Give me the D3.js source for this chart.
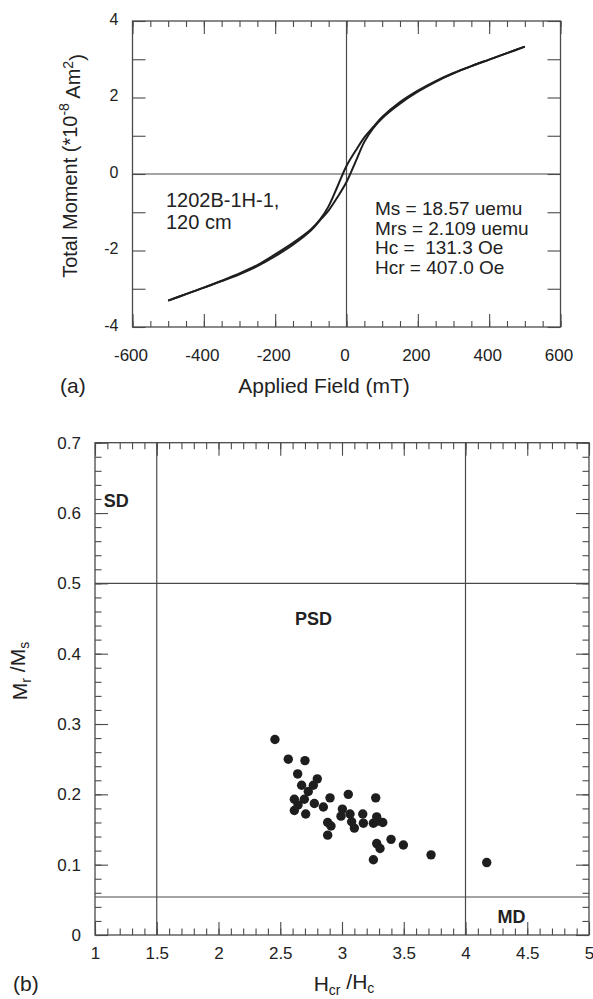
<!DOCTYPE html>
<html><head><meta charset="utf-8">
<script src="https://cdn.jsdelivr.net/npm/d3@7"></script>
<style>
body{margin:0;background:#fff}
svg{display:block}
text{font-family:"Liberation Sans",Arial,Helvetica,sans-serif;fill:#222}
</style>
</head><body>
<svg id="c" width="593" height="999"></svg>
<script>
// ---------- Panel (a): hysteresis loop ----------
const loopField = [-500,-450,-400,-350,-300,-250,-200,-150,-100,-75,-50,-25,0,25,50,75,100,150,200,250,300,350,400,450,500];
const descendingMoment = [-3.31,-3.14,-2.97,-2.79,-2.60,-2.38,-2.10,-1.80,-1.45,-1.20,-0.84,-0.32,0.21,0.60,0.96,1.23,1.49,1.88,2.18,2.43,2.64,2.82,2.99,3.16,3.33];
const ascendingMoment  = [-3.31,-3.14,-2.97,-2.80,-2.62,-2.41,-2.15,-1.85,-1.48,-1.22,-0.95,-0.60,-0.21,0.31,0.84,1.20,1.46,1.84,2.15,2.41,2.63,2.82,2.99,3.16,3.33];
const fieldTicks = [-600,-400,-200,0,200,400,600];
const momentTicks = [-4,-2,0,2,4];
const sampleLines = ["1202B-1H-1,","120 cm"];
const statsLines = ["Ms = 18.57 uemu","Mrs = 2.109 uemu","Hc =  131.3 Oe","Hcr = 407.0 Oe"];

// ---------- Panel (b): Day plot ----------
const hcrHc = [2.457,2.565,2.700,2.641,2.800,2.673,2.768,2.727,2.614,2.695,2.903,3.051,3.273,2.776,2.849,2.614,2.706,3.003,2.992,3.065,3.168,3.078,3.100,3.173,3.254,3.281,3.330,2.884,2.911,2.884,3.281,3.397,3.308,3.497,3.721,3.254,4.172,2.644,3.291];
const mrMs  = [0.278,0.250,0.248,0.229,0.222,0.213,0.213,0.204,0.193,0.193,0.195,0.200,0.195,0.187,0.182,0.177,0.172,0.179,0.169,0.172,0.172,0.161,0.152,0.159,0.159,0.168,0.160,0.160,0.155,0.142,0.130,0.136,0.123,0.128,0.114,0.107,0.103,0.185,0.162];
const ratioTicksX = [1,1.5,2,2.5,3,3.5,4,4.5,5];
const ratioTicksY = [0,0.1,0.2,0.3,0.4,0.5,0.6,0.7];
const hBoundaries = [1.5,4];
const mBoundaries = [0.5,0.054];
const domainLabels = [{t:"SD",h:1.07,m:0.608},{t:"PSD",h:2.62,m:0.441},{t:"MD",h:4.26,m:0.017}];

const svg = d3.select("#c");
const frameColor = "#4a4a4a";
const plain = d => String(d);

function styleAxis(g){
  g.select(".domain").remove();
  g.selectAll(".tick line").attr("stroke",frameColor).attr("stroke-width",1.1);
}

// ===== Panel (a) =====
const A = {l:132.5, r:560.5, t:21, b:327};
const xA = d3.scaleLinear().domain([-600,600]).range([A.l,A.r]);
const yA = d3.scaleLinear().domain([-4,4]).range([A.b,A.t]);
const gA = svg.append("g");

const minorField = d3.range(-600,601,50);
const unitMoments = d3.range(-4,5,1);
gA.append("g").attr("transform",`translate(0,${A.b})`)
  .call(d3.axisBottom(xA).tickValues(minorField).tickSize(-6).tickFormat("")).call(styleAxis);
gA.append("g").attr("transform",`translate(0,${A.t})`)
  .call(d3.axisTop(xA).tickValues(minorField).tickSize(-6).tickFormat("")).call(styleAxis);
gA.append("g").attr("transform",`translate(0,${A.t})`)
  .call(d3.axisTop(xA).tickValues(fieldTicks).tickSize(-13).tickFormat("")).call(styleAxis);
const axA = gA.append("g").attr("transform",`translate(0,${A.b})`)
  .call(d3.axisBottom(xA).tickValues(fieldTicks).tickSize(-13).tickPadding(22).tickFormat(plain)).call(styleAxis);
axA.selectAll("text").style("font-size","17px").attr("fill","#222").attr("dx","-2");
const ayA = gA.append("g").attr("transform",`translate(${A.l},0)`)
  .call(d3.axisLeft(yA).tickValues(unitMoments).tickSize(-13).tickPadding(14)
    .tickFormat(d => momentTicks.includes(d) ? plain(d) : "")).call(styleAxis);
ayA.selectAll("text").style("font-size","16px").attr("fill","#222").attr("dy","0.2em");
gA.append("g").attr("transform",`translate(${A.r},0)`)
  .call(d3.axisRight(yA).tickValues(unitMoments).tickSize(-13).tickFormat("")).call(styleAxis);

gA.append("rect").attr("x",A.l).attr("y",A.t).attr("width",A.r-A.l).attr("height",A.b-A.t)
  .attr("fill","none").attr("stroke",frameColor).attr("stroke-width",1.3);
gA.append("line").attr("x1",A.l).attr("x2",A.r).attr("y1",yA(0)).attr("y2",yA(0)).attr("stroke",frameColor).attr("stroke-width",1.2);
gA.append("line").attr("x1",xA(0)).attr("x2",xA(0)).attr("y1",A.t).attr("y2",A.b).attr("stroke",frameColor).attr("stroke-width",1.2);

const line = d3.line().x(d=>xA(d[0])).y(d=>yA(d[1])).curve(d3.curveCatmullRom.alpha(0.5));
[descendingMoment, ascendingMoment].forEach(arr=>{
  gA.append("path").datum(loopField.map((h,i)=>[h,arr[i]]))
    .attr("d",line).attr("fill","none").attr("stroke","#1e1e1e").attr("stroke-width",2);
});

const sampleT = gA.append("text").style("font-size","20px");
sampleLines.forEach((s,i)=> sampleT.append("tspan").attr("x",166).attr("y",207+i*21.5).text(s));
const statsT = gA.append("text").style("font-size","19px").style("white-space","pre");
statsLines.forEach((s,i)=> statsT.append("tspan").attr("x",375).attr("y",215+i*19.5).text(s));

const ytA = svg.append("text").attr("transform","translate(77,166) rotate(-90)")
  .attr("text-anchor","middle").style("font-size","20px");
ytA.append("tspan").text("Total Moment (*10");
ytA.append("tspan").attr("dy","-0.55em").style("font-size","14px").text("-8");
ytA.append("tspan").attr("dy","0.55em").text(" Am");
ytA.append("tspan").attr("dy","-0.55em").style("font-size","14px").text("2");
ytA.append("tspan").attr("dy","0.55em").text(")");

svg.append("text").attr("x",324).attr("y",393).attr("text-anchor","middle").style("font-size","21px").text("Applied Field (mT)");
svg.append("text").attr("x",60).attr("y",393).style("font-size","21px").text("(a)");

// ===== Panel (b) =====
const B = {l:95, r:589, t:442.7, b:935};
const xB = d3.scaleLinear().domain([1,5]).range([B.l,B.r]);
const yB = d3.scaleLinear().domain([0,0.7]).range([B.b,B.t]);
const gB = svg.append("g");

const minorX = d3.range(0,41).map(i=>1+i*0.1);
const minorY = d3.range(0,36).map(i=>i*0.02);
gB.append("g").attr("transform",`translate(0,${B.b})`).call(d3.axisBottom(xB).tickValues(minorX).tickSize(-6.5).tickFormat("")).call(styleAxis);
gB.append("g").attr("transform",`translate(0,${B.t})`).call(d3.axisTop(xB).tickValues(minorX).tickSize(-6.5).tickFormat("")).call(styleAxis);
gB.append("g").attr("transform",`translate(0,${B.t})`).call(d3.axisTop(xB).tickValues(ratioTicksX).tickSize(-13).tickFormat("")).call(styleAxis);
const axB = gB.append("g").attr("transform",`translate(0,${B.b})`)
  .call(d3.axisBottom(xB).tickValues(ratioTicksX).tickSize(-13).tickPadding(12).tickFormat(plain)).call(styleAxis);
axB.selectAll("text").style("font-size","17px").attr("fill","#222");
gB.append("g").attr("transform",`translate(${B.l},0)`).call(d3.axisLeft(yB).tickValues(minorY).tickSize(-6.5).tickFormat("")).call(styleAxis);
gB.append("g").attr("transform",`translate(${B.r},0)`).call(d3.axisRight(yB).tickValues(minorY).tickSize(-6.5).tickFormat("")).call(styleAxis);
gB.append("g").attr("transform",`translate(${B.r},0)`).call(d3.axisRight(yB).tickValues(ratioTicksY).tickSize(-13).tickFormat("")).call(styleAxis);
const ayB = gB.append("g").attr("transform",`translate(${B.l},0)`)
  .call(d3.axisLeft(yB).tickValues(ratioTicksY).tickSize(-13).tickPadding(14).tickFormat(plain)).call(styleAxis);
ayB.selectAll("text").style("font-size","17px").attr("fill","#222");

gB.append("rect").attr("x",B.l).attr("y",B.t).attr("width",B.r-B.l).attr("height",B.b-B.t)
  .attr("fill","none").attr("stroke",frameColor).attr("stroke-width",1.3);
hBoundaries.forEach(h=> gB.append("line").attr("x1",xB(h)).attr("x2",xB(h)).attr("y1",B.t).attr("y2",B.b).attr("stroke",frameColor).attr("stroke-width",1.2));
mBoundaries.forEach(m=> gB.append("line").attr("x1",B.l).attr("x2",B.r).attr("y1",yB(m)).attr("y2",yB(m)).attr("stroke",frameColor).attr("stroke-width",1.2));

gB.selectAll("circle.pt").data(hcrHc.map((h,i)=>[h,mrMs[i]])).enter().append("circle")
  .attr("class","pt").attr("cx",d=>xB(d[0])).attr("cy",d=>yB(d[1])).attr("r",4.7).attr("fill","#1e1e1e");

domainLabels.forEach(d=> gB.append("text").attr("x",xB(d.h)).attr("y",yB(d.m))
  .style("font-size","18px").style("font-weight","bold").text(d.t));

const ytB = svg.append("text").attr("transform","translate(27,671) rotate(-90)").attr("text-anchor","middle").style("font-size","21px");
ytB.append("tspan").text("M");
ytB.append("tspan").attr("dy","0.3em").style("font-size","14px").text("r");
ytB.append("tspan").attr("dy","-0.3em").text(" /M");
ytB.append("tspan").attr("dy","0.3em").style("font-size","14px").text("s");

const xtB = svg.append("text").attr("x",344).attr("y",991).attr("text-anchor","middle").style("font-size","21px");
xtB.append("tspan").text("H");
xtB.append("tspan").attr("dy","0.3em").style("font-size","14px").text("cr");
xtB.append("tspan").attr("dy","-0.3em").text(" /H");
xtB.append("tspan").attr("dy","0.3em").style("font-size","14px").text("c");
svg.append("text").attr("x",13).attr("y",991).style("font-size","21px").text("(b)");
</script>
</body></html>
